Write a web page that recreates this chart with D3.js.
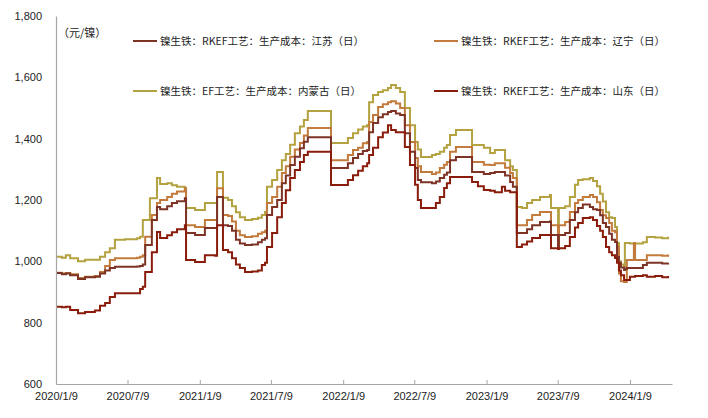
<!DOCTYPE html>
<html>
<head>
	<meta charset="utf-8">
	<title>镍生铁生产成本</title>
	<script src="https://d3js.org/d3.v7.min.js"></script>
	<style>
		body { margin: 0; background: #fff; }
		text { font-family: "Liberation Sans", Arial, sans-serif; }
		.cn { font-family: "Noto Sans CJK SC", sans-serif; }
	</style>
</head>
<body>
	<div id="chart"></div>
	<script>
		// 日期
		const dates = [
			"2020-01-09","2020-01-24","2020-02-03","2020-02-14","2020-03-05","2020-03-23","2020-04-17","2020-04-30",
			"2020-05-13","2020-05-25","2020-06-07","2020-07-03","2020-08-02","2020-08-10","2020-08-17","2020-08-23",
			"2020-09-04","2020-09-09","2020-09-22","2020-09-30","2020-10-18","2020-10-30","2020-11-12","2020-12-02",
			"2020-12-05","2020-12-28","2021-01-22","2021-02-17","2021-02-22","2021-03-09","2021-03-22","2021-04-01",
			"2021-04-11","2021-04-21","2021-05-04","2021-05-22","2021-06-06","2021-06-16","2021-06-24","2021-06-29",
			"2021-07-12","2021-07-25","2021-08-06","2021-08-16","2021-08-27","2021-09-08","2021-09-21","2021-10-01",
			"2021-10-11","2021-12-06","2021-12-09","2022-01-14","2022-01-21","2022-02-03","2022-02-16","2022-02-28",
			"2022-03-11","2022-03-16","2022-03-26","2022-04-08","2022-04-20","2022-05-03","2022-05-11","2022-05-23",
			"2022-06-03","2022-06-15","2022-06-28","2022-07-11","2022-07-18","2022-07-26","2022-08-23","2022-09-02",
			"2022-09-12","2022-09-23","2022-09-30","2022-10-08","2022-10-23","2022-11-23","2022-12-03","2022-12-18",
			"2023-01-02","2023-01-18","2023-01-30","2023-02-17","2023-02-25","2023-03-10","2023-03-17","2023-03-27",
			"2023-04-09","2023-04-22","2023-05-05","2023-05-25","2023-06-19","2023-06-22","2023-07-07","2023-07-10",
			"2023-07-12","2023-07-28","2023-08-09","2023-08-22","2023-08-30","2023-09-11","2023-09-29","2023-10-07",
			"2023-10-17","2023-10-25","2023-11-01","2023-11-09","2023-11-17","2023-11-24","2023-12-02","2023-12-07",
			"2023-12-12","2023-12-17","2023-12-25","2023-12-27","2024-01-01","2024-01-09","2024-01-19","2024-01-22",
			"2024-02-11","2024-02-21","2024-03-13","2024-03-31","2024-04-15"
		];

		// 内蒙古 EF
		const neimenggu = [
			1015,1012,1020,1010,1000,1005,1005,1015,1030,1043,1070,1072,1075,1080,1135,1135,
			1206,1206,1272,1252,1255,1248,1243,1238,1174,1167,1190,1190,1291,1207,1200,1180,
			1160,1144,1135,1138,1142,1151,1161,1243,1265,1298,1330,1350,1380,1418,1440,1461,
			1490,1490,1386,1386,1402,1418,1430,1440,1444,1519,1542,1552,1558,1565,1575,1565,
			1552,1500,1444,1389,1365,1340,1347,1350,1357,1370,1379,1412,1428,1428,1379,1379,
			1370,1353,1363,1363,1330,1310,1298,1177,1174,1190,1200,1210,1216,1174,1174,1045,
			1174,1180,1210,1250,1265,1268,1272,1262,1245,1220,1195,1160,1144,1141,1112,1060,
			1000,990,982,1060,1060,1058,1058,1058,1062,1079,1078,1075,1080
		];

		// 辽宁 RKEF
		const liaoning = [
			963,960,962,958,946,950,952,965,985,1004,1010,1010,1012,1015,1020,1080,
			1080,1151,1190,1200,1210,1220,1228,1238,1118,1112,1135,1135,1238,1151,1148,1130,
			1100,1085,1079,1082,1090,1095,1100,1190,1210,1243,1288,1310,1341,1365,1386,1410,
			1435,1435,1330,1330,1347,1363,1370,1385,1389,1454,1477,1503,1512,1519,1522,1515,
			1500,1444,1389,1337,1310,1291,1285,1290,1304,1315,1324,1357,1373,1373,1324,1324,
			1315,1314,1320,1320,1305,1288,1272,1118,1118,1135,1151,1161,1161,1118,1118,1050,
			1118,1128,1161,1190,1200,1210,1216,1210,1193,1167,1150,1141,1125,1100,1095,1047,
			960,935,933,933,1004,1004,1060,1004,1004,1020,1020,1018,1022
		];

		// 江苏 RKEF
		const jiangsu = [
			962,958,960,955,942,948,950,960,970,978,982,982,983,985,990,1053,
			1053,1135,1177,1170,1180,1190,1196,1206,1092,1086,1109,1109,1210,1118,1115,1100,
			1070,1058,1053,1055,1062,1070,1075,1151,1177,1200,1255,1280,1314,1341,1369,1390,
			1405,1405,1304,1304,1320,1337,1350,1360,1363,1421,1451,1470,1480,1487,1490,1482,
			1477,1418,1357,1304,1265,1258,1255,1260,1272,1282,1290,1330,1340,1340,1291,1291,
			1285,1288,1291,1291,1280,1259,1243,1092,1092,1105,1118,1128,1130,1086,1086,1045,
			1086,1092,1135,1160,1174,1185,1177,1170,1167,1150,1125,1112,1090,1070,1063,1014,
			995,980,972,975,978,978,978,978,988,995,995,993,995
		];

		// 山东 RKEF
		const shandong = [
			852,850,852,841,831,835,840,855,864,884,896,896,896,910,917,965,
			965,1030,1096,1076,1085,1095,1105,1118,1004,998,1020,1018,1118,1037,1030,1010,
			990,978,965,967,970,988,995,1047,1092,1144,1190,1232,1272,1298,1324,1347,
			1357,1357,1249,1249,1265,1281,1295,1310,1320,1347,1370,1405,1420,1444,1428,1421,
			1421,1373,1314,1250,1200,1174,1174,1190,1210,1239,1255,1275,1275,1275,1259,1245,
			1233,1230,1225,1243,1230,1225,1225,1047,1055,1065,1076,1086,1086,1043,1043,1040,
			1043,1050,1079,1110,1125,1141,1144,1135,1115,1100,1079,1047,1030,1020,1011,995,
			970,955,939,939,939,950,950,952,955,950,952,948,952
		];

		const seriesNames = [
			"镍生铁：RKEF工艺：生产成本：江苏（日）",
			"镍生铁：RKEF工艺：生产成本：辽宁（日）",
			"镍生铁：EF工艺：生产成本：内蒙古（日）",
			"镍生铁：RKEF工艺：生产成本：山东（日）"
		];
		const seriesValues = [jiangsu, liaoning, neimenggu, shandong];
		const seriesColors = ["#7d3426", "#c27b3c", "#b3a23f", "#8a1c0c"];

		const xTickDates = ["2020-01-09","2020-07-09","2021-01-09","2021-07-09","2022-01-09","2022-07-09","2023-01-09","2023-07-09","2024-01-09"];
		const yTicks = [600, 800, 1000, 1200, 1400, 1600, 1800];

		const parse = d3.timeParse("%Y-%m-%d");
		const fmt = d3.timeFormat("%Y/%-m/%-d");
		const fmtY = d3.format(",");

		const width = 708, height = 418;
		const svg = d3.select("#chart").append("svg")
			.attr("width", width)
			.attr("height", height);

		const x = d3.scaleTime()
			.domain([parse("2020-01-09"), parse("2024-04-25")])
			.range([56, 672]);
		const y = d3.scaleLinear()
			.domain([600, 1800])
			.range([384, 16]);

		// 折线 (从底层到顶层: 内蒙古, 辽宁, 江苏, 山东)
		const line = d3.line()
			.x(d => x(d[0]))
			.y(d => y(d[1]))
			.curve(d3.curveStepAfter);

		[2, 1, 0, 3].forEach(i => {
			const pts = dates.map((d, k) => [parse(d), seriesValues[i][k]]);
			svg.append("path")
				.datum(pts)
				.attr("fill", "none")
				.attr("stroke", seriesColors[i])
				.attr("stroke-width", 2)
				.attr("stroke-linejoin", "miter")
				.attr("d", line);
		});

		// Y轴
		const yAxis = svg.append("g")
			.attr("transform", "translate(56,0)")
			.call(d3.axisLeft(y).tickValues(yTicks).tickFormat(fmtY).tickSize(0).tickPadding(14));
		yAxis.select(".domain").attr("stroke", "#a6a6a6").attr("stroke-width", 1.2);
		yAxis.selectAll("text").attr("font-size", 11).attr("fill", "#222")
			.attr("font-family", "Liberation Sans, Arial, sans-serif");

		// X轴
		const xAxis = svg.append("g")
			.attr("transform", "translate(0,384)")
			.call(d3.axisBottom(x).tickValues(xTickDates.map(parse)).tickFormat(fmt).tickSizeInner(-4).tickSizeOuter(0).tickPadding(8));
		xAxis.select(".domain").attr("stroke", "#a6a6a6").attr("stroke-width", 1.2);
		xAxis.selectAll(".tick line").attr("stroke", "#a6a6a6");
		xAxis.selectAll("text").attr("font-size", 11).attr("fill", "#222")
			.attr("font-family", "Liberation Sans, Arial, sans-serif");

		// 单位
		svg.append("text")
			.attr("class", "cn")
			.attr("x", 58)
			.attr("y", 37)
			.attr("font-size", 11)
			.attr("fill", "#222")
			.text("（元/镍）");

		// 图例
		const legendPos = [[133, 41], [434, 41], [133, 91], [434, 91]];
		seriesNames.forEach((name, i) => {
			const [lx, ly] = legendPos[i];
			svg.append("line")
				.attr("x1", lx).attr("x2", lx + 24)
				.attr("y1", ly).attr("y2", ly)
				.attr("stroke", seriesColors[i])
				.attr("stroke-width", 2);
			svg.append("text")
				.attr("class", "cn")
				.attr("x", lx + 27)
				.attr("y", ly + 4)
				.attr("font-size", 10.5)
				.attr("fill", "#222")
				.text(name);
		});
	</script>
</body>
</html>
